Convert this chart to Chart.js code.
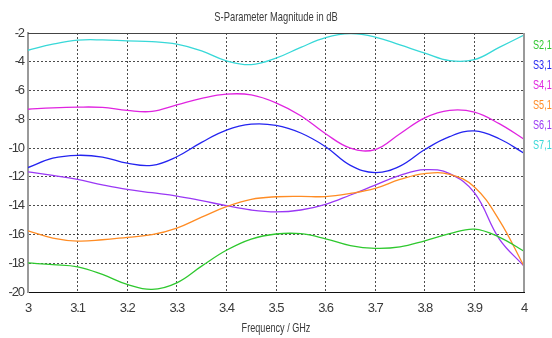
<!DOCTYPE html>
<html>
<head>
<meta charset="utf-8">
<script src="https://cdn.jsdelivr.net/npm/chart.js@4/dist/chart.umd.min.js"></script>
<style>
  html, body { margin: 0; padding: 0; background: #fff; }
  #chart { display: block; }
</style>
</head>
<body>
<canvas id="chart" width="552" height="338"></canvas>
<script>
const freq = [3.00, 3.05, 3.10, 3.15, 3.20, 3.25, 3.30, 3.35, 3.40, 3.45, 3.50,
              3.55, 3.60, 3.65, 3.70, 3.75, 3.80, 3.85, 3.90, 3.95, 4.00];

const s21 = [-17.98, -18.1, -18.25, -18.78, -19.47, -19.82, -19.36, -18.2, -17.1, -16.32, -15.97,
             -15.95, -16.3, -16.78, -16.97, -16.87, -16.44, -15.95, -15.63, -16.18, -17.17];
const s31 = [-11.35, -10.7, -10.5, -10.62, -11.05, -11.2, -10.6, -9.6, -8.75, -8.34, -8.42,
             -8.95, -9.9, -11.2, -11.7, -11.25, -10.1, -9.2, -8.8, -9.35, -10.35];
const s41 = [-7.3, -7.2, -7.15, -7.17, -7.38, -7.45, -7.0, -6.55, -6.25, -6.3, -6.85,
             -7.75, -9.0, -10.0, -10.1, -9.0, -7.9, -7.38, -7.5, -8.3, -9.38];
const s51 = [-15.75, -16.25, -16.46, -16.37, -16.2, -16.02, -15.56, -14.8, -14.07, -13.56, -13.38,
             -13.35, -13.37, -13.15, -12.8, -12.18, -11.77, -11.82, -12.7, -15.0, -18.2];
const s61 = [-11.65, -11.9, -12.18, -12.55, -12.87, -13.1, -13.33, -13.65, -14.0, -14.3, -14.43,
             -14.3, -13.91, -13.26, -12.57, -11.89, -11.5, -11.77, -13.1, -16.3, -18.2];
const s71 = [-3.2, -2.78, -2.5, -2.48, -2.55, -2.6, -2.78, -3.24, -3.93, -4.2, -3.75,
             -3.0, -2.32, -2.05, -2.28, -2.83, -3.4, -3.92, -3.85, -3.0, -2.14];

const seriesLabels = ["S2,1", "S3,1", "S4,1", "S5,1", "S6,1", "S7,1"];
const seriesColors = ["#2ec82e", "#2424f0", "#e024e0", "#ff8c24", "#9a38f5", "#38d8d8"];

const xTicks = [3, 3.1, 3.2, 3.3, 3.4, 3.5, 3.6, 3.7, 3.8, 3.9, 4];
const yTicks = [-20, -18, -16, -14, -12, -10, -8, -6, -4, -2];

const FONT = "'Liberation Sans', Arial, sans-serif";
Chart.defaults.font.family = FONT;
Chart.defaults.font.size = 13;
Chart.defaults.color = "#3a3a3a";

const toPoints = (vals) => vals.map((v, i) => ({ x: freq[i], y: v }));

// squeezed text, the reference uses a narrow face
function narrowText(c, text, x, y, align, sx) {
  c.save();
  c.translate(x, y);
  c.scale(sx, 1);
  c.textAlign = align;
  c.fillText(text, 0, 0);
  c.restore();
}

// title, axis label, legend text and the top/right frame
const extras = {
  id: "extras",
  beforeDraw(chart) {
    chart.ctx.letterSpacing = "-1.1px";
  },
  afterDraw(chart) {
    const c = chart.ctx;
    const a = chart.chartArea;
    c.save();
    c.letterSpacing = "0px";
    c.strokeStyle = "#444";
    c.lineWidth = 1;
    c.beginPath();
    c.moveTo(a.left, a.top + 0.5);
    c.lineTo(a.right, a.top + 0.5);
    c.stroke();
    c.strokeStyle = "#9a9a9a";
    c.lineWidth = 2;
    c.beginPath();
    c.moveTo(a.right, a.top);
    c.lineTo(a.right, a.bottom);
    c.stroke();

    c.fillStyle = "#3a3a3a";
    c.textBaseline = "middle";
    c.font = "13px " + FONT;
    narrowText(c, "S-Parameter Magnitude in dB", 276, 17, "center", 0.72);
    narrowText(c, "Frequency / GHz", 276, 328, "center", 0.7);

    chart.data.datasets.forEach((ds, i) => {
      c.fillStyle = ds.borderColor;
      narrowText(c, ds.label, a.right + 9, 45 + i * 20, "left", 0.7);
    });
    c.restore();
  }
};

new Chart(document.getElementById("chart"), {
  type: "line",
  data: {
    datasets: [s21, s31, s41, s51, s61, s71].map((vals, i) => ({
      label: seriesLabels[i],
      data: toPoints(vals),
      borderColor: seriesColors[i],
      borderWidth: 1.3,
      pointRadius: 0,
      tension: 0.4,
      fill: false,
    })),
  },
  options: {
    responsive: false,
    animation: false,
    layout: { padding: { left: 0, top: 33, right: 28, bottom: 0 } },
    plugins: {
      legend: { display: false },
      title: { display: false },
      tooltip: { enabled: false },
    },
    scales: {
      x: {
        type: "linear",
        min: 3,
        max: 4,
        afterBuildTicks: (s) => { s.ticks = xTicks.map((v) => ({ value: v })); },
        afterFit: (s) => { s.height = 46; },
        ticks: {
          padding: 9,
          maxRotation: 0,
          autoSkip: false,
          callback: (v) => String(Number(v.toFixed(1))),
        },
        grid: { color: "rgba(0,0,0,0.7)", drawTicks: false, lineWidth: 1 },
        border: { display: true, color: "#111", width: 1, dash: [2, 2] },
      },
      y: {
        min: -20,
        max: -2,
        afterBuildTicks: (s) => { s.ticks = yTicks.map((v) => ({ value: v })); },
        afterFit: (s) => { s.width = 28; },
        ticks: { padding: 4, autoSkip: false },
        grid: { color: "rgba(0,0,0,0.7)", drawTicks: false, lineWidth: 1 },
        border: { display: true, color: "#9a9a9a", width: 2, dash: [2, 2] },
      },
    },
  },
  plugins: [extras],
});
</script>
</body>
</html>
